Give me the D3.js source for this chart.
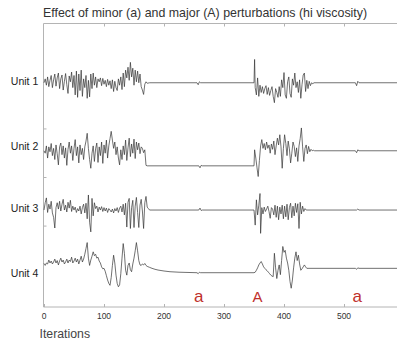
<!DOCTYPE html>
<html><head><meta charset="utf-8">
<script src="https://cdn.jsdelivr.net/npm/d3@7"></script>
<style>body{margin:0;background:#fff}svg{display:block}</style>
</head><body>
<svg id="c" width="397" height="343"></svg>
<script>
const title = "Effect of minor (a) and major (A) perturbations (hi viscosity)";
const unitNames = ["Unit 1", "Unit 2", "Unit 3", "Unit 4"];
const unitOffsets = [39.4, 25.4, 13.2, 0.3];
const labelLevels = [39.0, 25.6, 12.7, -0.5];
const xTicks = [0, 100, 200, 300, 400, 500];
const yTicks = [10, 20, 30];
const markers = [{t: "a", x: 258, size: 17}, {t: "A", x: 356, size: 15}, {t: "a", x: 522, size: 17}];
const earlyIters = d3.range(0, 172, 2);

const unit1Early = [0, 0.8, -0.5, 1.2, -0.8, 0.5, 1.5, -1.0, 0.6, 1.8,
 -0.7, 1.0, 2.0, -1.2, 0.8, 1.6, -1.5, 0.3, 1.9, -0.4,
 -2.2, 1.4, 0.2, 2.2, -1.0, 1.5, -2.5, 2.4, -3.0, 1.8,
 -1.6, 2.6, -2.8, 0.8, -1.0, 1.5, -3.2, 0.5, -2.9, 1.8,
 -1.2, 2.0, -0.5, 1.2, -1.0, 0.8, 0.2, 1.0, -0.6, 0.9,
 -0.3, 0.5, -0.8, 0.7, -0.5, 0.4, -1.2, 0.6, -1.8, 0.3,
 -1.0, -1.6, 0.8, -0.5, 1.2, -1.4, 2.0, -0.8, 2.6, 1.0,
 3.2, 0.5, 4.2, 1.2, 3.0, -0.5, 2.6, 0.2, 2.4, 0.0,
 1.8, -0.8, -1.5, -2.4, -0.3, 0.2];
const unit1Late = [[172,-0.1],[176,0],[255,0],[257,-0.4],[259,0.2],[261,0],[350,0],[351,4.8],[352,-1.0],[354,-2.5],[356,1.0],[358,-2.8],[360,-0.5],[362,-2.0],[364,-0.8],[366,-2.2],[368,-1.2],[370,-0.6],[372,-2.4],[374,-1.0],[376,-2.6],[378,-1.6],[380,-0.8],[382,-2.8],[384,-4.1],[386,-1.2],[388,-2.0],[390,-3.0],[392,-0.8],[394,-2.8],[396,0.6],[398,-1.0],[400,2.1],[402,-2.5],[404,-3.2],[406,0.2],[408,1.2],[410,-2.2],[412,-3.0],[414,0.8],[416,-0.5],[418,2.0],[420,-1.0],[422,0.2],[424,-2.0],[426,0.6],[428,-3.2],[430,-0.4],[432,1.6],[434,2.0],[436,-1.8],[438,0.5],[440,-1.2],[442,0.3],[444,-0.6],[446,0],[448,-0.2],[450,0],[519,0],[521,-0.6],[523,0.3],[525,0],[590,0]];

const unit2Early = [0, -0.5, 1.0, -1.5, 0.8, -0.2, 1.5, -1.0, 0.5, -1.8,
 1.2, -0.6, -2.9, 0.8, 1.6, -0.8, 1.0, -1.5, 0.6, -3.0,
 0.3, 1.8, -0.5, 1.0, -2.0, 0.5, 2.3, -1.0, 0.8, -2.5,
 1.2, -0.8, 0.5, -1.8, 0.8, 2.0, 3.6, 0.5, -1.8, -3.6,
 -0.5, 1.0, -2.2, 0.4, 1.6, -2.4, 0.8, -1.0, 1.8, -2.6,
 1.2, -0.5, 2.2, -1.5, 1.0, 2.5, 4.0, 2.2, 0.5, 1.8,
 -0.8, 0.8, -1.5, -2.9, 0.2, -1.8, 1.0, -0.8, 2.2, -2.0,
 0.6, 2.6, -1.2, 1.4, -0.5, 2.4, -1.6, 1.8, 0.2, 1.6,
 -0.6, 0.8, 0.5, -0.4, 0.2, -3.0];
const unit2Late = [[172,-3.1],[258,-3.1],[260,-3.5],[262,-3.0],[264,-3.1],[350,-3.1],[351,0.2],[353,-1.5],[355,-3.5],[357,-5.3],[359,-2.0],[361,1.0],[363,2.3],[365,0.5],[367,1.5],[369,0.2],[371,1.8],[373,0.5],[375,1.2],[377,-0.5],[379,1.4],[381,0.3],[383,2.0],[385,-0.8],[387,1.0],[389,2.6],[391,1.2],[393,3.3],[395,0.8],[397,-3.6],[399,0.5],[401,3.3],[403,1.5],[405,-1.0],[407,2.0],[409,0.4],[411,-2.5],[413,-0.5],[415,1.8],[417,0.9],[419,-1.2],[421,0.6],[423,-2.2],[425,1.0],[427,2.5],[429,4.7],[431,0.8],[433,-2.2],[435,0.5],[437,1.2],[439,-0.6],[441,0.9],[443,-0.2],[445,0.3],[447,0],[449,0.1],[451,0],[519,0],[521,-0.4],[523,0.2],[525,0],[590,0]];

const unit3Early = [0, 1.5, 2.5, -0.5, 1.2, 0.2, 1.8, -0.6, -1.5, -3.7,
 0.5, 1.5, 0.2, 1.8, -0.2, 1.2, 2.2, 0.0, 1.0, -0.4,
 1.6, 0.4, 2.0, -0.3, 0.8, 0.0, 0.6, -0.5, 0.3, -0.2,
 0.8, -0.8, 0.5, 1.2, -0.6, 1.4, -1.8, 3.1, -2.5, -4.5,
 2.4, -1.2, 1.5, 0.3, 0.8, -0.4, 0.6, 0.0, 0.7, -0.3,
 0.5, -0.2, 0.4, -0.5, 0.3, 0.0, -0.4, 0.2, -0.6, 0.3,
 -0.2, 0.5, -0.5, 0.4, 0.8, -0.4, 1.2, -1.0, 1.4, -3.5,
 1.6, 2.4, -3.8, 0.5, 2.0, -3.6, 0.8, 2.6, -0.5, -3.6,
 1.0, 2.2, -0.2, -3.8, 1.5, 2.8];
const unit3Late = [[172,0.6],[174,0.3],[176,0],[258,0],[260,0.4],[262,-0.1],[264,0],[350,0],[352,-3.1],[354,2.1],[356,-1.0],[358,1.0],[360,3.4],[361,-4.8],[363,0.5],[365,-0.8],[367,0.6],[369,-0.3],[371,0.2],[373,0.8],[375,-0.3],[377,-1.7],[379,0.5],[381,0.2],[383,-1.0],[385,1.0],[387,-1.5],[389,0.8],[391,-2.0],[393,0.6],[395,-0.8],[397,1.0],[399,-1.8],[401,0.8],[403,-1.4],[405,1.2],[407,-2.0],[409,0.5],[411,1.4],[413,-1.6],[415,0.8],[417,-1.2],[419,1.4],[421,-0.5],[423,1.3],[425,-3.8],[427,1.6],[429,-0.8],[431,0.8],[433,-0.3],[435,0.3],[437,0],[440,0],[521,0],[523,0.2],[525,0],[590,0]];

const unit4Early = [1.9, 1.5, 2.0, 1.8, 2.6, 2.0, 2.4, 1.8, 2.2, 2.8,
 2.0, 2.5, 1.6, 2.4, 3.0, 2.2, 2.6, 1.8, 2.2, 2.8,
 2.0, 2.6, 2.3, 3.2, 2.0, 2.4, 3.0, 2.2, 2.8, 1.8,
 2.6, 3.4, 2.2, 2.8, 3.8, 5.0, 6.2, 3.0, 1.5, 2.6,
 3.4, 4.3, 3.5, 3.8, 3.0, 3.2, 2.4, 2.0, 1.2, 0.8,
 0.9, 0.3, -0.6, -1.5, -2.2, -2.6, -1.0, 1.5, 3.6, 2.0,
 -0.5, -2.2, -2.9, -2.5, -0.2, 3.0, 6.0, 4.0, 0.5, -0.5,
 1.5, 2.0, 0.6, 0.2, 1.8, 3.0, 4.5, 6.2, 4.5, 2.5,
 1.6, 1.5, 1.8, 1.6, 1.9, 1.5];
const unit4Late = [[172,1.3],[176,1.1],[180,0.9],[185,0.7],[190,0.55],[200,0.35],[210,0.2],[225,0.1],[240,0.05],[255,0],[257,-0.2],[259,0.1],[261,0],[350,0],[352,0.1],[354,0.5],[356,1.0],[358,1.6],[360,2.0],[362,2.3],[364,1.8],[366,1.2],[368,0.9],[370,0.6],[372,0.4],[374,0.1],[376,-0.2],[378,-0.5],[380,-0.7],[382,-0.8],[384,4.0],[386,1.0],[388,-1.2],[390,0.5],[392,1.6],[394,-0.4],[396,2.5],[398,5.4],[400,4.2],[402,4.6],[404,3.0],[406,2.0],[408,0.5],[410,-1.8],[412,-3.2],[414,-1.5],[416,1.0],[418,3.0],[420,4.3],[422,2.5],[424,3.6],[426,1.8],[428,0.5],[430,0.8],[432,1.2],[434,1.6],[436,1.2],[438,0.9],[445,0.9],[519,0.9],[521,0.7],[523,1.0],[525,0.9],[590,0.9]];

const earlyVals = [unit1Early, unit2Early, unit3Early, unit4Early];
const lateVals = [unit1Late, unit2Late, unit3Late, unit4Late];

const svg = d3.select("#c");
const x = d3.scaleLinear().domain([0, 590]).range([44, 398]);
const y = d3.scaleLinear().domain([-6.76, 51.6]).range([307, 23.5]);
const font = "'Liberation Sans', Arial, Helvetica, sans-serif";
const axisColor = "#b4b4b4";

// frame
const g = svg.append("g");
g.append("line").attr("x1", x(0)-0.5).attr("x2", 397).attr("y1", y(51.6)).attr("y2", y(51.6)).attr("stroke", axisColor);
g.append("line").attr("x1", x(0)-0.5).attr("x2", 397).attr("y1", y(-6.76)).attr("y2", y(-6.76)).attr("stroke", axisColor);
g.append("line").attr("x1", x(0)-0.5).attr("x2", x(0)-0.5).attr("y1", y(51.6)).attr("y2", y(-6.76)).attr("stroke", axisColor);

// bottom axis
const bx = svg.append("g").attr("transform", `translate(0,${y(-6.76)})`)
  .call(d3.axisTop(x).tickValues(xTicks).tickSize(3).tickFormat(""));
bx.select(".domain").remove();
bx.selectAll("line").attr("stroke", axisColor);
svg.append("g").selectAll("text").data(xTicks).join("text")
  .attr("x", d => x(d)).attr("y", 319.3).attr("text-anchor", "middle")
  .attr("font-family", font).attr("font-size", 8.5).attr("fill", "#333").text(d => d);
// top ticks
const tx = svg.append("g").attr("transform", `translate(0,${y(51.6)})`)
  .call(d3.axisBottom(x).tickValues(xTicks.slice(1)).tickSize(3).tickFormat(""));
tx.select(".domain").remove();
tx.selectAll("line").attr("stroke", axisColor);
// left ticks
const ly = svg.append("g").attr("transform", `translate(${x(0)-0.5},0)`)
  .call(d3.axisRight(y).tickValues(yTicks).tickSize(3).tickFormat(""));
ly.select(".domain").remove();
ly.selectAll("line").attr("stroke", axisColor);

// traces
const line = d3.line().x(d => x(d[0])).y(d => y(d[1]));
earlyVals.forEach((vals, i) => {
  const pts = earlyIters.map((t, k) => [t, unitOffsets[i] + vals[k]])
    .concat(lateVals[i].map(p => [p[0], unitOffsets[i] + p[1]]));
  svg.append("path").datum(pts).attr("d", line).attr("fill", "none")
    .attr("stroke", "#333").attr("stroke-width", 0.7).attr("stroke-linejoin", "round");
});

// unit labels
svg.append("g").selectAll("text").data(unitNames).join("text")
  .attr("x", 38.3).attr("y", (d, i) => y(labelLevels[i])).attr("text-anchor", "end")
  .attr("font-family", font).attr("font-size", 10.5).attr("fill", "#222").text(d => d);

// markers
svg.append("g").selectAll("text").data(markers).join("text")
  .attr("x", d => x(d.x)).attr("y", 301.5).attr("text-anchor", "middle")
  .attr("font-family", font).attr("font-size", d => d.size).attr("fill", "#c0302c").text(d => d.t);

// title & x label
svg.append("text").attr("x", 43).attr("y", 17).attr("font-family", font).attr("font-size", 12.4)
  .attr("fill", "#333").text(title);
svg.append("text").attr("x", 39.5).attr("y", 338.3).attr("font-family", font).attr("font-size", 12.3)
  .attr("fill", "#444").text("Iterations");
</script>
</body></html>
